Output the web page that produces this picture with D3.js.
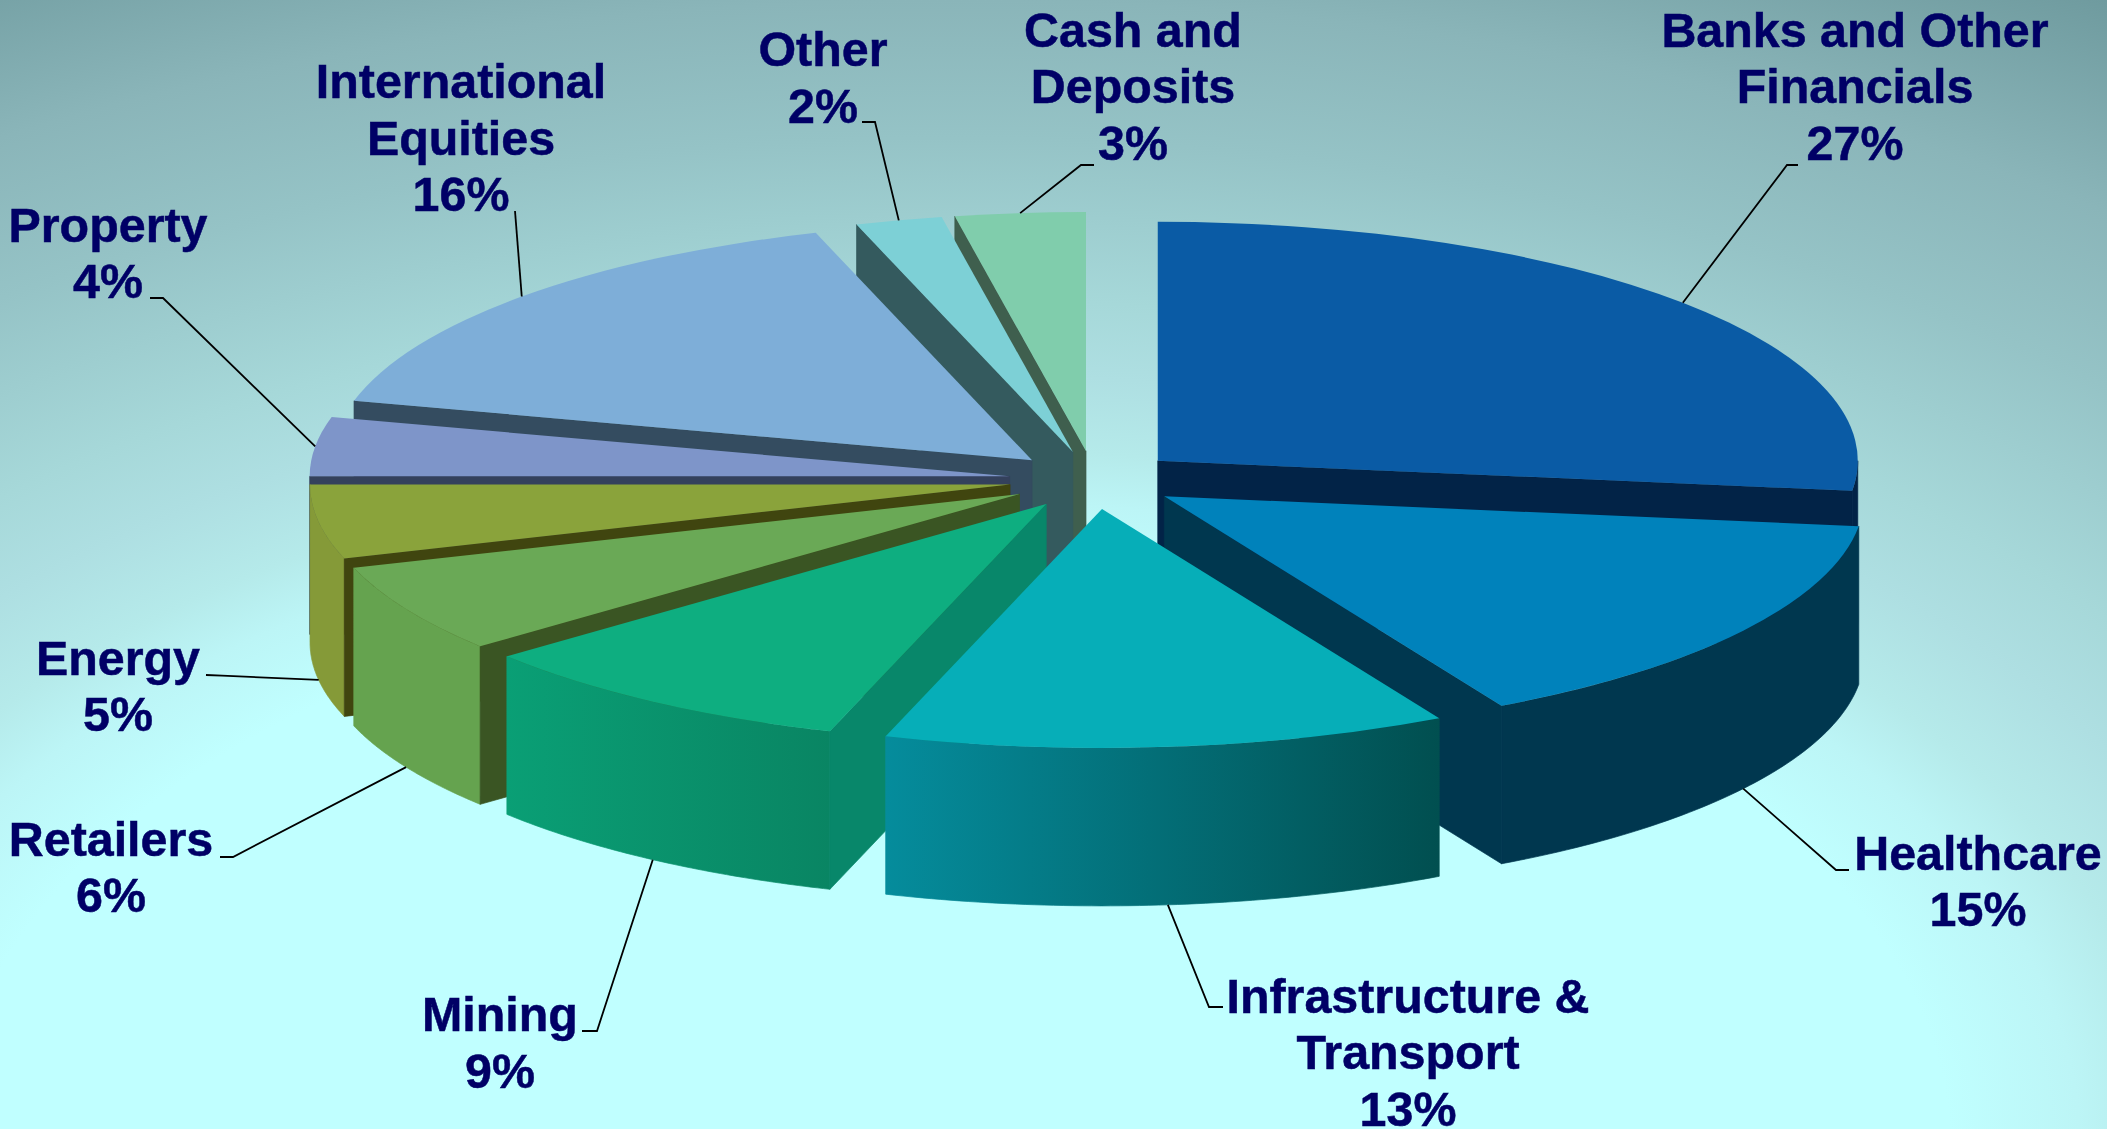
<!DOCTYPE html>
<html><head><meta charset="utf-8">
<style>html,body{margin:0;padding:0;background:#c0ffff;overflow:hidden}svg{display:block}</style>
<script src="https://cdn.jsdelivr.net/npm/d3@7/dist/d3.min.js"></script>
</head><body>
<svg id="chart" width="2107" height="1129"></svg>
<script>
// ---- data ----
const categories = ["Banks and Other Financials","Healthcare","Infrastructure & Transport","Mining","Retailers","Energy","Property","International Equities","Other","Cash and Deposits"];
const values = [27,15,13,9,6,5,4,16,2,3];
const labelLines = [["Banks and Other","Financials"],["Healthcare"],["Infrastructure &","Transport"],["Mining"],["Retailers"],["Energy"],["Property"],["International","Equities"],["Other"],["Cash and","Deposits"]];
// ---- styles ----
const topColors = ["#0a5ba5","#0082bb","#06aeb8","#0eae80","#6aa956","#8aa33b","#7e95c9","#7eaed8","#7dd0d6","#80cdac"];
const cutColors = ["#022347","#00374f","#014f50","#08876a","#3a5523","#40450f","#34415c","#344c60","#345a5e","#3f5f4e"];
const wallLeft  = ["#022347","#00374f","#058c9c","#0a9f75","#65a34f","#859a38","#34415c","#344c60","#345a5e","#3f5f4e"];
const wallRight = ["#022347","#00374f","#014f50","#098563","#65a34f","#859a38","#34415c","#344c60","#345a5e","#3f5f4e"];
const drawOrder = [9,8,7,6,5,4,3,0,1,2];
// ---- layout ----
const W=2107,H=1129, cx0=1094, cy0=480, rx=700, ry=239, depth=158, explode=85, tilt=ry/rx;
const fontSize=48.4, lineGap=56.5;
const labelCx   = [1855,1978,1408,500,111,118,108,461,823,1133];
const labelBase = [46.7,869.5,1012.5,1031,855.5,674.6,241.5,98,66,46.7];
// elbows of the leader lines, from the label towards the slice
const elbows = [[[1798,165],[1787,165]],[[1849,870],[1836,870]],[[1223,1007],[1209,1007]],[[582,1031],[597,1031]],[[220,857],[233,857]],[[206,675],[222,675.6]],[[150,298],[163,298]],[[515,211]],[[862,122],[875,122]],[[1094,165],[1081,165]]];
const rimBottom = [false,true,true,true,true,true,false,false,false,false];

const svg=d3.select("#chart"), defs=svg.append("defs");

// background
const bgMax=1.16;
const bgStops=[[0,"#c0ffff"],[.5,"#c0ffff"],[.565,"#bcf5f6"],[.61,"#b5eaea"],[.675,"#aedfe2"],[.74,"#a6d8d9"],[.88,"#95c3c6"],[1,"#8ab5b9"],[1.16,"#6e9a9e"]];
const bg=defs.append("radialGradient").attr("id","bg").attr("gradientUnits","userSpaceOnUse")
  .attr("cx",0).attr("cy",0).attr("r",1)
  .attr("gradientTransform",`translate(950,1150) scale(${2000*bgMax},${1150*bgMax})`);
bgStops.forEach(([o,c])=>bg.append("stop").attr("offset",o/bgMax).attr("stop-color",c));
svg.append("rect").attr("width",W).attr("height",H).attr("fill","url(#bg)");

const pie=d3.pie().sort(null).startAngle(0).endAngle(2*Math.PI).value(d=>d);
const arcs=pie(values);
const arcGen=d3.arc().innerRadius(0).outerRadius(rx);
const line=d3.line();

const slices=arcs.map((a,i)=>{
  const mid=(a.startAngle+a.endAngle)/2;
  return {i,a,mid,cx:cx0+explode*Math.sin(mid),cy:cy0-explode*tilt*Math.cos(mid)};
});
const rim=(s,ang)=>[s.cx+rx*Math.sin(ang), s.cy-ry*Math.cos(ang)];

const g=svg.append("g");
drawOrder.forEach(i=>{
  const s=slices[i], a=s.a, sg=g.append("g").attr("class","slice");
  const apex=[s.cx,s.cy];
  const drop=p=>[p[0],p[1]+depth];
  // outer wall (front half only)
  const lo=Math.max(a.startAngle,Math.PI/2), hi=Math.min(a.endAngle,3*Math.PI/2);
  if(hi>lo){
    const pts=d3.range(0,61).map(k=>rim(s,lo+(hi-lo)*k/60));
    const xs=pts.map(p=>p[0]);
    let paint=wallLeft[i];
    if(wallLeft[i]!==wallRight[i]){
      const id="wall"+i;
      const gr=defs.append("linearGradient").attr("id",id).attr("gradientUnits","userSpaceOnUse")
        .attr("x1",d3.min(xs)).attr("x2",d3.max(xs)).attr("y1",0).attr("y2",0);
      gr.append("stop").attr("offset",0).attr("stop-color",wallLeft[i]);
      gr.append("stop").attr("offset",1).attr("stop-color",wallRight[i]);
      paint=`url(#${id})`;
    }
    sg.append("path").attr("d",line(pts.concat(pts.map(drop).reverse()))+"Z").attr("fill",paint)
      .attr("stroke",paint).attr("stroke-width",.7);
  }
  // cut faces
  const cuts=[];
  if(Math.sin(a.startAngle)<0) cuts.push(a.startAngle);
  if(Math.sin(a.endAngle)>0) cuts.push(a.endAngle);
  cuts.forEach(ang=>{
    const c=rim(s,ang);
    sg.append("path").attr("d",line([apex,c,drop(c),drop(apex)])+"Z").attr("fill",cutColors[i])
      .attr("stroke",cutColors[i]).attr("stroke-width",.7);
  });
  // top face
  sg.append("path").attr("d",arcGen(a))
    .attr("transform",`translate(${s.cx},${s.cy}) scale(1,${tilt})`).attr("fill",topColors[i]);
});

// leader lines
slices.forEach(s=>{
  const r=rim(s,s.mid);
  const end=rimBottom[s.i]?[r[0],r[1]+depth]:r;
  svg.append("path").attr("d",line(elbows[s.i].concat([end]))).attr("fill","none")
    .attr("stroke","#000").attr("stroke-width",1.8);
});

// labels
slices.forEach(s=>{
  const lines=labelLines[s.i].concat([values[s.i]+"%"]);
  const t=svg.append("text").attr("text-anchor","middle")
    .attr("font-family","'Liberation Sans',Arial,sans-serif").attr("font-weight","700")
    .attr("font-size",fontSize).attr("fill","#000066")
    .attr("stroke","#000066").attr("stroke-width",.5);
  lines.forEach((l,k)=>t.append("tspan").attr("x",labelCx[s.i]).attr("y",labelBase[s.i]+k*lineGap).text(l));
});
</script>
</body></html>
